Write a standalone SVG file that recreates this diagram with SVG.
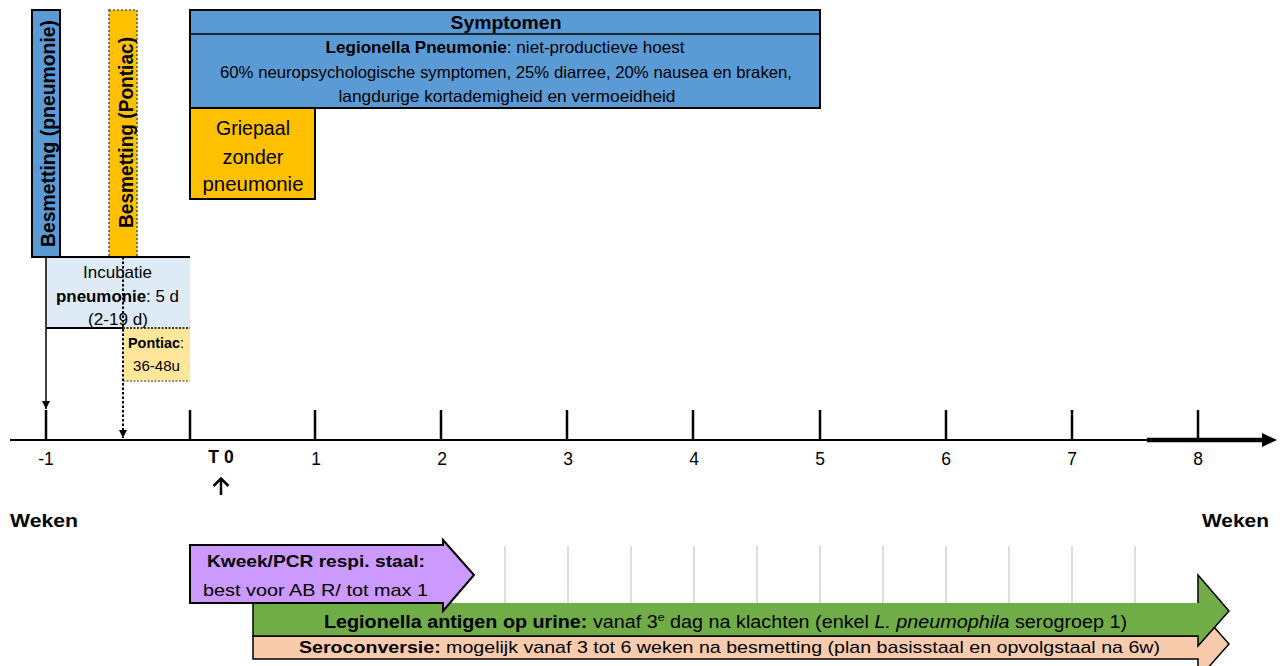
<svg xmlns="http://www.w3.org/2000/svg" width="1284" height="666" viewBox="0 0 1284 666">
<defs>
<style>
text{font-family:"Liberation Sans","Noto Sans",Arial,sans-serif;fill:#000}
.b{font-weight:bold}
.c{text-anchor:middle}
.ax{font-size:17.5px}
.ln{stroke:#000;stroke-width:2;fill:none}
.tick{stroke:#000;stroke-width:2.5}
.grid{stroke:#d0d0d0;stroke-width:1.5}
</style>
<marker id="ah2" viewBox="0 0 10 10" refX="10" refY="5" markerWidth="8" markerHeight="8" orient="auto" markerUnits="userSpaceOnUse"><path d="M0,0L10,5L0,10z" fill="#000"/></marker>
</defs>
<rect width="1284" height="666" fill="#fff"/>

<g id="besmetting-pneumonie">
<rect x="32" y="10" width="28" height="247" fill="#5B9BD5" stroke="#000" stroke-width="2"/>
<text class="b c" font-size="20" textLength="227" lengthAdjust="spacingAndGlyphs" transform="translate(54.5,133.5) rotate(-90)">Besmetting (pneumonie)</text>
</g>
<g id="besmetting-pontiac">
<rect x="109" y="10" width="28" height="247" fill="#FFC000" stroke="#555" stroke-width="1.5" stroke-dasharray="2,2"/>
<text class="b c" font-size="20" textLength="191" lengthAdjust="spacingAndGlyphs" transform="translate(132.5,132.5) rotate(-90)">Besmetting (Pontiac)</text>
</g>

<g id="symptomen">
<rect x="190" y="10" width="630" height="98" fill="#5B9BD5" stroke="#000" stroke-width="2"/>
<line x1="190" y1="34" x2="820" y2="34" stroke="#000" stroke-width="1.5"/>
<text class="b c" x="506" y="29" font-size="18" textLength="111" lengthAdjust="spacingAndGlyphs">Symptomen</text>
<text class="c" x="505" y="53" font-size="16.5" textLength="359" lengthAdjust="spacingAndGlyphs"><tspan class="b">Legionella Pneumonie</tspan>: niet-productieve hoest</text>
<text class="c" x="506" y="78" font-size="16.5" textLength="572" lengthAdjust="spacingAndGlyphs">60% neuropsychologische symptomen, 25% diarree, 20% nausea en braken,</text>
<text class="c" x="507" y="102" font-size="16.5" textLength="337" lengthAdjust="spacingAndGlyphs">langdurige kortademigheid en vermoeidheid</text>
</g>

<g id="griepaal">
<rect x="190" y="108" width="125" height="91" fill="#FFC000" stroke="#000" stroke-width="2"/>
<text class="c" x="253" y="135" font-size="20" textLength="74" lengthAdjust="spacingAndGlyphs">Griepaal</text>
<text class="c" x="253" y="164" font-size="20" textLength="61" lengthAdjust="spacingAndGlyphs">zonder</text>
<text class="c" x="253" y="191" font-size="20" textLength="101" lengthAdjust="spacingAndGlyphs">pneumonie</text>
</g>

<g id="incubatie">
<rect x="46" y="258" width="144" height="70" fill="#DEEBF7"/>
<text class="c" x="117.5" y="278" font-size="16.5" textLength="69" lengthAdjust="spacingAndGlyphs">Incubatie</text>
<text class="c" x="117.5" y="302" font-size="16.5" textLength="123" lengthAdjust="spacingAndGlyphs"><tspan class="b">pneumonie</tspan>: 5 d</text>
<text class="c" x="118" y="325" font-size="16.5" textLength="60" lengthAdjust="spacingAndGlyphs">(2-19 d)</text>
</g>
<g id="pontiac-incubatie">
<rect x="123" y="328" width="67" height="53" fill="#FFE699"/>
<line x1="123" y1="381" x2="190" y2="381" stroke="#777" stroke-width="1.5" stroke-dasharray="2,1.5"/>
<text class="c" x="156" y="348" font-size="14.5" textLength="56" lengthAdjust="spacingAndGlyphs"><tspan class="b">Pontiac</tspan>:</text>
<text class="c" x="156.5" y="371" font-size="14.5" textLength="47" lengthAdjust="spacingAndGlyphs">36-48u</text>
</g>

<g id="connectors">
<line x1="32" y1="257" x2="190" y2="257" class="ln"/>
<line x1="46" y1="328" x2="123" y2="328" class="ln"/>
<line x1="123" y1="328" x2="190" y2="328" stroke="#000" stroke-width="1.5" stroke-dasharray="2,1.5"/>
<line x1="46" y1="257" x2="46" y2="409" stroke="#000" stroke-width="1.5" marker-end="url(#ah2)"/>
<line x1="123" y1="257" x2="123" y2="438" stroke="#000" stroke-width="2" stroke-dasharray="2.5,2" marker-end="url(#ah2)"/>
<line x1="221" y1="495" x2="221" y2="478" stroke="#000" stroke-width="2.5"/>
<path d="M213.5,486L221,478.5L228.5,486" fill="none" stroke="#000" stroke-width="2.5"/>
</g>

<g id="axis">
<line x1="10" y1="440" x2="1150" y2="440" stroke="#000" stroke-width="2"/>
<line x1="1147" y1="440" x2="1264" y2="440" stroke="#000" stroke-width="4.5"/>
<path d="M1262,433L1277,440L1262,447z" fill="#000"/>
<line class="tick" x1="46" y1="410" x2="46" y2="441"/>
<line class="tick" x1="190" y1="410" x2="190" y2="441"/>
<line class="tick" x1="315" y1="410" x2="315" y2="441"/>
<line class="tick" x1="441" y1="410" x2="441" y2="441"/>
<line class="tick" x1="567" y1="410" x2="567" y2="441"/>
<line class="tick" x1="693" y1="410" x2="693" y2="441"/>
<line class="tick" x1="820" y1="410" x2="820" y2="441"/>
<line class="tick" x1="946" y1="410" x2="946" y2="441"/>
<line class="tick" x1="1072" y1="410" x2="1072" y2="441"/>
<line class="tick" x1="1198" y1="410" x2="1198" y2="441"/>
<text class="c ax" x="46" y="465">-1</text>
<text class="c ax b" x="221" y="463">T 0</text>
<text class="c ax" x="316" y="465">1</text>
<text class="c ax" x="442" y="465">2</text>
<text class="c ax" x="568" y="465">3</text>
<text class="c ax" x="694" y="465">4</text>
<text class="c ax" x="820" y="465">5</text>
<text class="c ax" x="946" y="465">6</text>
<text class="c ax" x="1072" y="465">7</text>
<text class="c ax" x="1198" y="465">8</text>
<text class="b" x="10" y="527" font-size="18" textLength="68" lengthAdjust="spacingAndGlyphs">Weken</text>
<text class="b" x="1202" y="527" font-size="18" textLength="67" lengthAdjust="spacingAndGlyphs">Weken</text>
</g>

<g id="grid">
<line class="grid" x1="505" y1="546" x2="505" y2="603"/>
<line class="grid" x1="568" y1="546" x2="568" y2="603"/>
<line class="grid" x1="631" y1="546" x2="631" y2="603"/>
<line class="grid" x1="694" y1="546" x2="694" y2="603"/>
<line class="grid" x1="757" y1="546" x2="757" y2="603"/>
<line class="grid" x1="820" y1="546" x2="820" y2="603"/>
<line class="grid" x1="883" y1="546" x2="883" y2="603"/>
<line class="grid" x1="946" y1="546" x2="946" y2="603"/>
<line class="grid" x1="1009" y1="546" x2="1009" y2="603"/>
<line class="grid" x1="1072" y1="546" x2="1072" y2="603"/>
<line class="grid" x1="1135" y1="546" x2="1135" y2="603"/>
</g>

<g id="seroconversie">
<path d="M253,636H1198V609L1229,644L1198,679V659H253Z" fill="#F8CBAD" stroke="#000" stroke-width="1.5"/>
<text class="c" x="729.5" y="653" font-size="17" textLength="861" lengthAdjust="spacingAndGlyphs"><tspan class="b">Seroconversie:</tspan> mogelijk vanaf 3 tot 6 weken na besmetting (plan basisstaal en opvolgstaal na 6w)</text>
</g>
<g id="antigen">
<path d="M253,603H1198V575L1229,611L1198,646V636H253Z" fill="#70AD47"/>
<path d="M253,603V636H1198V646L1229,611L1198,575V603" fill="none" stroke="#000" stroke-width="1.5"/>
<text class="c" x="725.5" y="628" font-size="17.5" textLength="803" lengthAdjust="spacingAndGlyphs"><tspan class="b">Legionella antigen op urine:</tspan> vanaf 3<tspan dy="-7" font-size="11">e</tspan><tspan dy="7"> dag na klachten (enkel </tspan><tspan font-style="italic">L. pneumophila</tspan>  serogroep 1)</text>
</g>
<g id="kweek">
<path d="M190,545H443V540L474,575L443,611V603H190Z" fill="#CC99FF" stroke="#000" stroke-width="2"/>
<text class="c b" x="316" y="567" font-size="17" textLength="218" lengthAdjust="spacingAndGlyphs">Kweek/PCR respi. staal:</text>
<text class="c" x="315.5" y="596" font-size="17" textLength="225" lengthAdjust="spacingAndGlyphs">best voor AB R/ tot max 1</text>
</g>
</svg>
